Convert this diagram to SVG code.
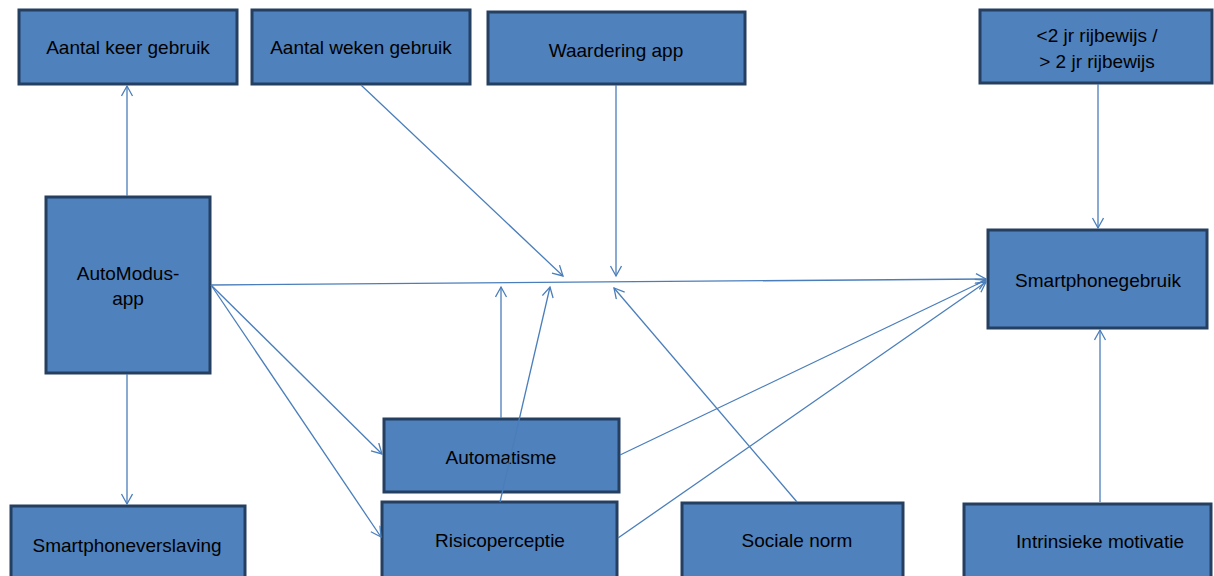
<svg xmlns="http://www.w3.org/2000/svg" width="1214" height="576" viewBox="0 0 1214 576">
<style>
.box{fill:#4F81BD;stroke:#243F60;stroke-width:3}
.lbl{font-family:"Liberation Sans",Arial,sans-serif;font-size:19px;fill:#000;text-anchor:middle}
.con{stroke:#4A7EBB;stroke-width:1.3;fill:none}
</style>
<defs>
<marker id="arr" markerUnits="userSpaceOnUse" markerWidth="14" markerHeight="14" refX="11" refY="6" orient="auto">
<path d="M1,0.5 L11,6 L1,11.5" fill="none" stroke="#4A7EBB" stroke-width="1.3"/>
</marker>
</defs>
<rect width="1214" height="576" fill="#fff"/>
<g id="aantal-keer"><rect class="box" x="19" y="10" width="218" height="74"/><text class="lbl" x="128" y="54">Aantal keer gebruik</text></g>
<g id="aantal-weken"><rect class="box" x="252" y="10" width="218" height="74"/><text class="lbl" x="361" y="54">Aantal weken gebruik</text></g>
<g id="waardering"><rect class="box" x="488" y="12" width="257" height="72"/><text class="lbl" x="616" y="57">Waardering app</text></g>
<g id="rijbewijs"><rect class="box" x="980" y="10" width="232" height="73"/><text class="lbl" x="1097" y="42">&lt;2 jr rijbewijs /</text><text class="lbl" x="1097" y="68">&gt; 2 jr rijbewijs</text></g>
<g id="automodus"><rect class="box" x="46" y="197" width="164" height="176"/><text class="lbl" x="128" y="280">AutoModus-</text><text class="lbl" x="128" y="305">app</text></g>
<g id="smartphonegebruik"><rect class="box" x="988" y="230" width="219" height="98"/><text class="lbl" x="1098" y="287">Smartphonegebruik</text></g>
<g id="automatisme"><rect class="box" x="384" y="419" width="235" height="73"/><text class="lbl" x="501" y="464">Automatisme</text></g>
<g id="risicoperceptie"><rect class="box" x="382" y="502" width="235" height="80"/><text class="lbl" x="500" y="547">Risicoperceptie</text></g>
<g id="sociale-norm"><rect class="box" x="682" y="503" width="221" height="80"/><text class="lbl" x="797" y="547">Sociale norm</text></g>
<g id="intrinsieke"><rect class="box" x="964" y="504" width="247" height="80"/><text class="lbl" x="1100" y="548">Intrinsieke motivatie</text></g>
<g id="smartphoneverslaving"><rect class="box" x="11" y="506" width="234" height="80"/><text class="lbl" x="127" y="552">Smartphoneverslaving</text></g>
<g id="connectors" class="con">
<line class="con" x1="127" y1="196" x2="127" y2="86" marker-end="url(#arr)"/>
<line class="con" x1="127" y1="374" x2="127" y2="504" marker-end="url(#arr)"/>
<line class="con" x1="211" y1="285" x2="986" y2="279" marker-end="url(#arr)"/>
<line class="con" x1="211" y1="285" x2="382" y2="454" marker-end="url(#arr)"/>
<line class="con" x1="211" y1="285" x2="381" y2="537" marker-end="url(#arr)"/>
<line class="con" x1="361" y1="85" x2="563" y2="276" marker-end="url(#arr)"/>
<line class="con" x1="616" y1="85" x2="616" y2="276" marker-end="url(#arr)"/>
<line class="con" x1="501" y1="418" x2="501" y2="287" marker-end="url(#arr)"/>
<line class="con" x1="500" y1="502" x2="550" y2="287" marker-end="url(#arr)"/>
<line class="con" x1="797" y1="502" x2="614" y2="288" marker-end="url(#arr)"/>
<line class="con" x1="620" y1="455" x2="986" y2="280" marker-end="url(#arr)"/>
<line class="con" x1="618" y1="538" x2="986" y2="282" marker-end="url(#arr)"/>
<line class="con" x1="1098" y1="84" x2="1098" y2="228" marker-end="url(#arr)"/>
<line class="con" x1="1100" y1="502" x2="1100" y2="330" marker-end="url(#arr)"/>
</g>
</svg>
